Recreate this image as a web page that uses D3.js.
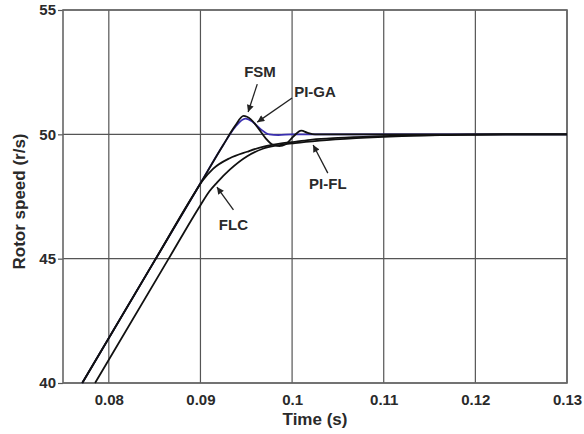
<!DOCTYPE html>
<html>
<head>
<meta charset="utf-8">
<script src="https://cdn.jsdelivr.net/npm/d3@7"></script>
<style>
  body { margin: 0; background: #fff; }
  svg text { font-family: "Liberation Sans", Arial, sans-serif; font-weight: bold; fill: #2a2a2a; }
</style>
</head>
<body>
<div id="chart"></div>
<script>
// Tick values
const xTicks = [0.08, 0.09, 0.1, 0.11, 0.12, 0.13];
const yTicks = [40, 45, 50, 55];

// Series: [time (s), rotor speed (r/s)]
const fsm = [
    [0.0771, 40], [0.0850, 44.92], [0.0900, 48.03], [0.0925, 49.58], [0.0938, 50.35],
    [0.0947, 50.74], [0.0955, 50.6], [0.0963, 50.25], [0.0971, 49.85], [0.0978, 49.6],
    [0.0986, 49.53], [0.0993, 49.6], [0.1001, 49.9], [0.1010, 50.15], [0.1017, 50.06],
    [0.1025, 50.0], [0.13, 50.0]
];
const piGa = [
    [0.0771, 40], [0.0850, 44.92], [0.0900, 48.03], [0.0925, 49.58], [0.0938, 50.3],
    [0.0949, 50.63], [0.0957, 50.5], [0.0966, 50.2], [0.0975, 50.0], [0.0985, 49.97],
    [0.1000, 50.0], [0.13, 50.0]
];
const piFl = [
    [0.0771, 40], [0.0850, 44.92], [0.0895, 47.72], [0.0902, 48.12], [0.0914, 48.62],
    [0.0932, 49.04], [0.0951, 49.3], [0.0968, 49.5], [0.0985, 49.62], [0.1003, 49.7],
    [0.1022, 49.79], [0.1050, 49.86], [0.1090, 49.92], [0.1140, 49.96], [0.1200, 49.99],
    [0.1250, 50.0], [0.13, 50.0]
];
const flc = [
    [0.0785, 40], [0.0865, 44.98], [0.0900, 47.15], [0.0910, 47.72], [0.0918, 48.06],
    [0.0932, 48.58], [0.0951, 49.12], [0.0968, 49.42], [0.0985, 49.56], [0.1003, 49.65],
    [0.1030, 49.75], [0.1070, 49.85], [0.1120, 49.93], [0.1170, 49.97], [0.1230, 50.0],
    [0.13, 50.0]
];

// Annotation labels: text position and arrow [from, to] in data units
const labels = [
    { text: 'FSM',   at: [0.0965, 52.5],  from: [0.0962, 52.02], to: [0.0952, 50.9] },
    { text: 'PI-GA', at: [0.1025, 51.7],  from: [0.1000, 51.46], to: [0.0962, 50.49] },
    { text: 'PI-FL', at: [0.1039, 48.0],  from: [0.1039, 48.44], to: [0.1023, 49.57] },
    { text: 'FLC',   at: [0.0936, 46.35], from: [0.0936, 46.96], to: [0.0918, 47.88] }
];

const width = 584, height = 434;
const margin = { top: 10, right: 17, bottom: 51, left: 63 };
const innerW = width - margin.left - margin.right;
const innerH = height - margin.top - margin.bottom;

const svg = d3.select('#chart')
    .append('svg')
    .attr('width', width)
    .attr('height', height);

// Arrow head
svg.append('defs').append('marker')
    .attr('id', 'arrow')
    .attr('viewBox', '0 0 10 10')
    .attr('refX', 10)
    .attr('refY', 5)
    .attr('markerWidth', 9)
    .attr('markerHeight', 7)
    .attr('markerUnits', 'userSpaceOnUse')
    .attr('orient', 'auto')
    .append('path')
    .attr('d', 'M0,0 L10,5 L0,10 z')
    .attr('fill', '#222');

const g = svg.append('g')
    .attr('transform', `translate(${margin.left},${margin.top})`);

const x = d3.scaleLinear().domain([0.075, 0.13]).range([0, innerW]);
const y = d3.scaleLinear().domain([40, 55]).range([innerH, 0]);

// Grid
g.append('g')
    .selectAll('line')
    .data(xTicks)
    .enter()
    .append('line')
    .attr('x1', d => x(d)).attr('x2', d => x(d))
    .attr('y1', 0).attr('y2', innerH)
    .attr('stroke', '#555')
    .attr('stroke-width', 1.2);

g.append('g')
    .selectAll('line')
    .data(yTicks)
    .enter()
    .append('line')
    .attr('x1', 0).attr('x2', innerW)
    .attr('y1', d => y(d)).attr('y2', d => y(d))
    .attr('stroke', '#555')
    .attr('stroke-width', 1.2);

// Axes
const xAxis = g.append('g')
    .attr('transform', `translate(0,${innerH})`)
    .call(d3.axisBottom(x).tickValues(xTicks).tickSize(0).tickPadding(11)
        .tickFormat(d => String(+d.toFixed(2))));
const yAxis = g.append('g')
    .call(d3.axisLeft(y).tickValues(yTicks).tickSize(5).tickPadding(2));

[xAxis, yAxis].forEach(ax => {
    ax.select('.domain').remove();
    ax.selectAll('text').attr('font-size', '15px').attr('fill', '#2a2a2a')
        .attr('font-family', '"Liberation Sans", Arial, sans-serif');
    ax.selectAll('line').attr('stroke', '#555').attr('stroke-width', 1.2);
});

// Frame
g.append('rect')
    .attr('width', innerW)
    .attr('height', innerH)
    .attr('fill', 'none')
    .attr('stroke', '#666')
    .attr('stroke-width', 1.6);

// Curves
const line = d3.line()
    .x(d => x(d[0]))
    .y(d => y(d[1]))
    .curve(d3.curveMonotoneX);

const series = [
    { data: piGa, color: '#3a2fb0' },
    { data: flc, color: '#111' },
    { data: piFl, color: '#111' },
    { data: fsm, color: '#111' }
];

g.append('g')
    .selectAll('path')
    .data(series)
    .enter()
    .append('path')
    .attr('d', d => line(d.data))
    .attr('fill', 'none')
    .attr('stroke', d => d.color)
    .attr('stroke-width', 1.8);

// Labels with arrows
const ann = g.append('g');
ann.selectAll('line')
    .data(labels)
    .enter()
    .append('line')
    .attr('x1', d => x(d.from[0])).attr('y1', d => y(d.from[1]))
    .attr('x2', d => x(d.to[0])).attr('y2', d => y(d.to[1]))
    .attr('stroke', '#222')
    .attr('stroke-width', 1.3)
    .attr('marker-end', 'url(#arrow)');

ann.selectAll('text')
    .data(labels)
    .enter()
    .append('text')
    .attr('x', d => x(d.at[0]))
    .attr('y', d => y(d.at[1]))
    .attr('dy', '0.35em')
    .attr('text-anchor', 'middle')
    .attr('font-size', '15px')
    .text(d => d.text);

// Axis titles
svg.append('text')
    .attr('x', margin.left + x(0.1025))
    .attr('y', 425)
    .attr('text-anchor', 'middle')
    .attr('font-size', '17px')
    .text('Time (s)');

svg.append('text')
    .attr('transform', `translate(25,${margin.top + y(47.3)}) rotate(-90)`)
    .attr('text-anchor', 'middle')
    .attr('font-size', '17px')
    .text('Rotor speed (r/s)');
</script>
</body>
</html>
